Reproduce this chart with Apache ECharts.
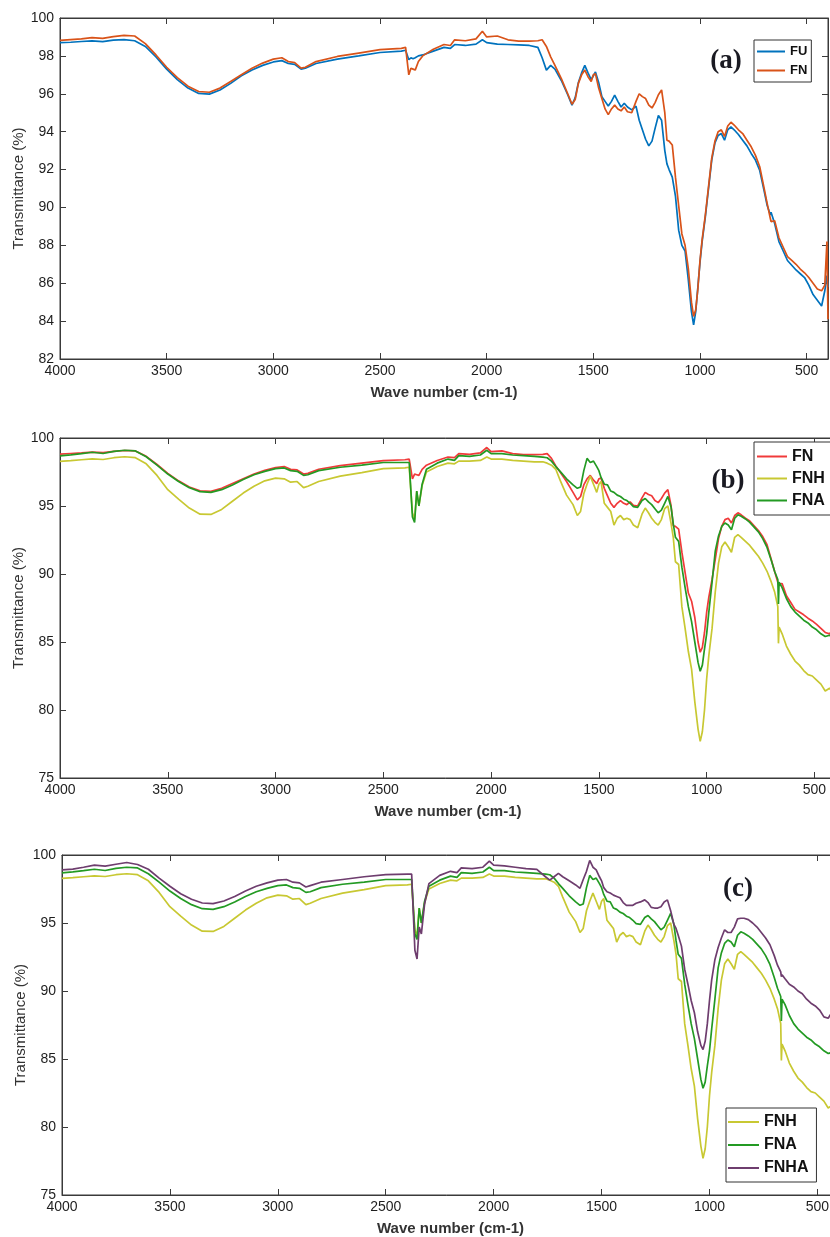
<!DOCTYPE html>
<html>
<head>
<meta charset="utf-8">
<script src="https://cdn.jsdelivr.net/npm/echarts@6/dist/echarts.min.js"></script>
<style>
  html, body { margin: 0; padding: 0; background: #fff; }
  #chart { width: 830px; height: 1237px; }
</style>
</head>
<body>
<div id="chart"></div>
<script>
// FTIR spectra: wavenumber (cm-1) and transmittance (%) for each sample
const wn = [
  4000, 3950, 3900, 3850, 3800, 3750, 3700, 3650, 3600, 3550,
  3500, 3450, 3400, 3350, 3300, 3250, 3200, 3150, 3100, 3050,
  3000, 2960, 2930, 2900, 2870, 2850, 2800, 2700, 2600, 2500,
  2400, 2380, 2365, 2355, 2345, 2335, 2320, 2300, 2250, 2200,
  2170, 2150, 2100, 2050, 2020, 2000, 1950, 1900, 1850, 1800,
  1760, 1740, 1720, 1700, 1680, 1650, 1620, 1600, 1585, 1570,
  1555, 1540, 1525, 1510, 1500, 1490, 1475, 1460, 1445, 1430,
  1415, 1400, 1385, 1370, 1355, 1340, 1320, 1300, 1285, 1270,
  1255, 1240, 1225, 1210, 1195, 1180, 1165, 1155, 1145, 1130,
  1115, 1100, 1085, 1070, 1055, 1040, 1030, 1020, 1010, 1000,
  990, 975, 960, 945, 930, 915, 900, 885, 870, 855,
  840, 820, 800, 780, 760, 740, 720, 700, 685, 670,
  667, 664, 650, 630, 610, 590, 570, 550, 530, 510,
  490, 470, 450, 430, 415, 405, 400
];

const FU = [
  98.70, 98.72, 98.76, 98.79, 98.75, 98.83, 98.86, 98.80, 98.50, 97.95,
  97.30, 96.75, 96.30, 96.02, 95.98, 96.20, 96.55, 96.95, 97.25, 97.50,
  97.68, 97.75, 97.60, 97.55, 97.30, 97.35, 97.60, 97.83, 98.00, 98.18,
  98.25, 98.30, 97.80, 97.90, 97.85, 97.90, 98.00, 98.05, 98.25, 98.45,
  98.40, 98.60, 98.55, 98.62, 98.85, 98.70, 98.62, 98.60, 98.58, 98.55,
  98.45, 97.90, 97.25, 97.50, 97.30, 96.70, 95.95, 95.40, 95.80, 96.60,
  97.10, 97.50, 97.10, 96.75, 96.95, 97.15, 96.60, 95.85, 95.60, 95.35,
  95.60, 95.93, 95.60, 95.30, 95.50, 95.30, 95.15, 95.35, 94.60, 94.10,
  93.60, 93.25, 93.50, 94.20, 94.85, 94.60, 93.00, 92.30, 92.00, 91.60,
  90.60, 88.80, 88.00, 87.70, 86.20, 84.50, 83.80, 84.50, 85.80, 87.10,
  88.20, 89.50, 91.00, 92.50, 93.40, 93.80, 93.90, 93.55, 94.10, 94.25,
  94.10, 93.85, 93.55, 93.25, 92.85, 92.50, 91.95, 90.90, 90.10, 89.60,
  89.75, 89.70, 89.15, 88.20, 87.70, 87.20, 86.95, 86.70, 86.50, 86.30,
  85.90, 85.40, 85.10, 84.80, 85.60, 86.40, 85.80
];

const FN = [
  98.82, 98.86, 98.90, 98.96, 98.92, 99.02, 99.08, 99.05, 98.65, 98.05,
  97.40, 96.85, 96.40, 96.12, 96.08, 96.30, 96.65, 97.00, 97.35, 97.62,
  97.83, 97.90, 97.70, 97.65, 97.35, 97.40, 97.70, 97.97, 98.15, 98.33,
  98.40, 98.45, 97.00, 97.35, 97.30, 97.25, 97.70, 98.00, 98.35, 98.60,
  98.55, 98.85, 98.80, 98.90, 99.30, 99.00, 99.05, 98.85, 98.78, 98.78,
  98.80, 98.85, 98.50, 97.95, 97.50, 96.80, 96.00, 95.45, 95.70, 96.55,
  97.00, 97.25, 96.90, 96.65, 97.00, 97.05, 96.30, 95.75, 95.20, 94.90,
  95.20, 95.40, 95.20, 95.10, 95.30, 95.05, 95.00, 95.60, 96.00, 95.85,
  95.75, 95.40, 95.25, 95.55, 95.95, 96.20, 95.00, 93.55, 93.50, 93.30,
  91.60, 90.10, 88.60, 88.00, 86.80, 85.00, 84.25, 84.60, 85.70, 87.20,
  88.30, 89.60, 91.10, 92.60, 93.50, 94.00, 94.10, 93.75, 94.30, 94.50,
  94.35, 94.10, 93.90, 93.55, 93.20, 92.75, 92.15, 91.05, 90.20, 89.40,
  89.25, 89.35, 89.30, 88.40, 87.90, 87.40, 87.20, 87.00, 86.75, 86.55,
  86.30, 86.00, 85.70, 85.60, 85.90, 88.20, 84.10
];

const FNH = [
  98.28, 98.33, 98.40, 98.46, 98.42, 98.55, 98.62, 98.55, 98.10, 97.25,
  96.20, 95.50, 94.85, 94.40, 94.38, 94.75, 95.35, 95.95, 96.45, 96.85,
  97.05, 97.00, 96.75, 96.80, 96.35, 96.45, 96.80, 97.20, 97.45, 97.75,
  97.80, 97.85, 94.50, 94.00, 96.10, 95.00, 96.50, 97.50, 97.90, 98.15,
  98.10, 98.30, 98.30, 98.35, 98.60, 98.45, 98.45, 98.35, 98.30, 98.25,
  98.25, 98.15, 98.00, 97.70, 96.90, 95.80, 95.10, 94.30, 94.60, 95.90,
  96.60, 97.20, 96.60, 96.00, 96.60, 96.80, 95.20, 94.90, 94.60, 93.60,
  94.10, 94.30, 94.00, 94.10, 94.00, 93.60, 93.40, 94.40, 94.85, 94.50,
  94.10, 93.80, 93.60, 94.00, 94.80, 95.00, 93.70, 92.70, 90.90, 90.70,
  87.60, 86.00, 84.30, 83.00, 80.60, 78.60, 77.70, 78.40, 80.00, 82.30,
  84.00, 86.00, 88.70, 90.80, 92.00, 92.35, 92.00, 91.60, 92.70, 92.90,
  92.70, 92.40, 92.10, 91.70, 91.30, 90.80, 90.20, 89.40, 88.70, 87.60,
  84.90, 86.10, 85.60, 84.70, 84.10, 83.60, 83.30, 82.90, 82.60, 82.50,
  82.20, 81.90, 81.40, 81.60, 81.40, 81.50, 81.40
];

const FNA = [
  98.68, 98.76, 98.85, 98.95, 98.86, 99.02, 99.10, 99.05, 98.62, 98.00,
  97.35, 96.80, 96.35, 96.05, 96.00, 96.20, 96.55, 96.95, 97.30, 97.55,
  97.75, 97.80, 97.60, 97.55, 97.25, 97.30, 97.60, 97.85, 98.00, 98.20,
  98.20, 98.20, 94.20, 93.80, 96.10, 95.00, 96.60, 97.70, 98.15, 98.45,
  98.35, 98.70, 98.65, 98.75, 99.10, 98.85, 98.85, 98.75, 98.70, 98.65,
  98.60, 98.55, 98.30, 97.90, 97.55, 97.00, 96.55, 96.30, 96.40, 97.60,
  98.50, 98.20, 98.30, 97.90, 97.60, 97.10, 96.60, 96.55, 96.10, 96.00,
  95.80, 95.70, 95.50, 95.40, 95.20, 94.95, 94.90, 95.40, 95.55, 95.30,
  95.10, 94.80, 94.50, 94.70, 95.20, 95.70, 94.90, 93.70, 92.70, 92.40,
  90.50, 89.00, 87.60, 86.50, 85.00, 83.50, 82.85, 83.30, 84.50, 85.60,
  87.20, 89.40, 91.70, 92.80, 93.50, 93.75, 93.60, 93.25, 94.10, 94.35,
  94.25, 94.05, 93.80, 93.45, 93.10, 92.60, 91.95, 91.00, 90.20, 89.60,
  87.80, 89.40, 89.00, 88.20, 87.60, 87.20, 86.90, 86.60, 86.40, 86.10,
  85.90, 85.60, 85.40, 85.50, 85.30, 85.50, 85.40
];

const FNHA = [
  98.90, 98.96, 99.10, 99.25, 99.18, 99.32, 99.45, 99.30, 98.95, 98.30,
  97.70, 97.15, 96.75, 96.47, 96.43, 96.62, 96.95, 97.35, 97.70, 97.95,
  98.15, 98.20, 98.00, 97.95, 97.65, 97.75, 98.00, 98.20, 98.40, 98.55,
  98.60, 98.60, 93.00, 92.35, 94.70, 94.20, 96.40, 97.90, 98.50, 98.80,
  98.70, 99.05, 99.00, 99.10, 99.55, 99.25, 99.20, 99.10, 99.00, 98.95,
  98.40, 98.15, 98.40, 98.65, 98.40, 98.10, 97.80, 97.55, 98.20, 98.80,
  99.60, 99.10, 98.90, 98.40, 98.10, 97.60, 97.30, 97.20, 97.05, 96.95,
  96.85, 96.50, 96.30, 96.30, 96.30, 96.45, 96.55, 96.70, 96.50, 96.15,
  96.10, 96.10, 96.20, 96.55, 96.70, 95.90, 94.90, 94.60, 94.10, 93.30,
  91.60, 90.50, 89.30, 88.40, 87.00, 86.00, 85.70, 86.30, 87.60, 89.30,
  90.80, 92.30, 93.20, 93.90, 94.50, 94.30, 94.30, 94.70, 95.30, 95.35,
  95.35, 95.25, 95.00, 94.70, 94.30, 93.90, 93.40, 92.60, 91.90, 91.40,
  91.05, 91.20, 90.90, 90.50, 90.30, 90.00, 89.80, 89.40, 89.10, 88.90,
  88.60, 88.10, 88.00, 88.50, 88.40, 88.60, 88.50
];

const xTicks = [4000, 3500, 3000, 2500, 2000, 1500, 1000, 500];
const panelLabels = ['(a)', '(b)', '(c)'];

const COLORS = {
  FU: '#0072BD',
  FNa: '#D95319',
  FNb: '#F03A3A',
  FNH: '#C8C832',
  FNA: '#239A23',
  FNHA: '#6E3D6E'
};

const pts = arr => wn.map((w, i) => [w, arr[i]]);

const FONT = '"Liberation Sans", Arial, sans-serif';
const AXIS_COLOR = '#3a3a3a';
const plain = v => String(v);

// three stacked panels; the lower two run past the right edge of the page
const grids = [
  { left: 60, top: 18, width: 768, height: 341 },
  { left: 60, top: 438, width: 776, height: 340 },
  { left: 62, top: 855, width: 777, height: 340 }
];
const yRanges = [
  { min: 82, max: 100, interval: 2 },
  { min: 75, max: 100, interval: 5 },
  { min: 75, max: 100, interval: 5 }
];

const xAxes = [];
const yAxes = [];
grids.forEach((g, i) => {
  xAxes.push({
    type: 'value', gridIndex: i, min: 400, max: 4000, inverse: true,
    axisLine: { show: true, lineStyle: { color: AXIS_COLOR, width: 1 } },
    axisTick: { show: true, inside: true, length: 6, customValues: xTicks, lineStyle: { color: AXIS_COLOR } },
    axisLabel: { customValues: xTicks, formatter: plain, fontFamily: FONT, fontSize: 14, color: '#1e1e1e', margin: 5 },
    splitLine: { show: false },
    name: 'Wave number (cm-1)', nameLocation: 'middle', nameGap: 26, nameMoveOverlap: false,
    nameTextStyle: { fontFamily: FONT, fontSize: 15, fontWeight: 'bold', color: '#333' }
  });
  yAxes.push({
    type: 'value', gridIndex: i, min: yRanges[i].min, max: yRanges[i].max, interval: yRanges[i].interval,
    axisLine: { show: true, lineStyle: { color: AXIS_COLOR, width: 1 } },
    axisTick: { show: true, inside: true, length: 6, lineStyle: { color: AXIS_COLOR } },
    axisLabel: { formatter: plain, fontFamily: FONT, fontSize: 14, color: '#1e1e1e', margin: 6 },
    splitLine: { show: false },
    name: 'Transmittance (%)', nameLocation: 'middle', nameGap: 34, nameMoveOverlap: false,
    nameTextStyle: { fontFamily: FONT, fontSize: 15, color: '#333' }
  });
});
// top frame with inward ticks
grids.forEach((g, i) => {
  xAxes.push({
    type: 'value', gridIndex: i, min: 400, max: 4000, inverse: true, position: 'top',
    axisLine: { show: true, lineStyle: { color: AXIS_COLOR, width: 1 } },
    axisTick: { show: true, inside: true, length: 6, customValues: xTicks, lineStyle: { color: AXIS_COLOR } },
    axisLabel: { show: false },
    splitLine: { show: false }
  });
});
// right frame of the first panel
yAxes.push({
  type: 'value', gridIndex: 0, min: 82, max: 100, interval: 2, position: 'right',
  axisLine: { show: true, lineStyle: { color: AXIS_COLOR, width: 1 } },
  axisTick: { show: true, inside: true, length: 6, lineStyle: { color: AXIS_COLOR } },
  axisLabel: { show: false },
  splitLine: { show: false }
});

function line(name, arr, color, panel) {
  return {
    type: 'line', name, data: pts(arr), xAxisIndex: panel, yAxisIndex: panel,
    symbol: 'none', showSymbol: false, smooth: false,
    lineStyle: { color, width: 1.7 }, itemStyle: { color },
    emphasis: { disabled: true }
  };
}

const series = [
  line('FU', FU, COLORS.FU, 0),
  line('FN', FN, COLORS.FNa, 0),
  line('FN', FN, COLORS.FNb, 1),
  line('FNH', FNH, COLORS.FNH, 1),
  line('FNA', FNA, COLORS.FNA, 1),
  line('FNH', FNH, COLORS.FNH, 2),
  line('FNA', FNA, COLORS.FNA, 2),
  line('FNHA', FNHA, COLORS.FNHA, 2)
];

function legendBox(pos, items, fontSize, lineH, gap, padding, iconW) {
  return Object.assign({
    orient: 'vertical', selectedMode: false,
    backgroundColor: '#fff', borderColor: '#333', borderWidth: 1, borderRadius: 0,
    padding, itemGap: gap, itemWidth: iconW, itemHeight: 2, icon: 'rect',
    textStyle: { fontFamily: FONT, fontSize, fontWeight: 'bold', color: '#111', lineHeight: lineH },
    data: items.map(([name, color]) => ({ name, itemStyle: { color, borderWidth: 0 } }))
  }, pos);
}

const legends = [
  legendBox({ left: 754, top: 40 }, [['FU', COLORS.FU], ['FN', COLORS.FNa]], 13, 15, 4, [4, 4, 4, 3], 28),
  legendBox({ left: 754, top: 442 }, [['FN', COLORS.FNb], ['FNH', COLORS.FNH], ['FNA', COLORS.FNA]], 16, 17, 5, [6, 8, 6, 3], 30),
  legendBox({ left: 726, top: 1108 }, [['FNH', COLORS.FNH], ['FNA', COLORS.FNA], ['FNHA', COLORS.FNHA]], 16, 18, 5, [5, 8, 5, 2], 31)
];

const labelPos = [[726, 61], [728, 481], [738, 889]];
const graphics = panelLabels.map((t, i) => ({
  type: 'text', x: labelPos[i][0], y: labelPos[i][1], z: 10,
  style: {
    text: t, font: 'bold 27px "Liberation Serif", "Times New Roman", serif',
    fill: '#1a1a22', align: 'center', verticalAlign: 'middle'
  }
}));

const chart = echarts.init(document.getElementById('chart'), null, { renderer: 'canvas' });
chart.setOption({
  animation: false,
  backgroundColor: '#ffffff',
  grid: grids.map(g => Object.assign({
    show: true, borderColor: AXIS_COLOR, borderWidth: 1, backgroundColor: 'transparent',
    containLabel: false, outerBoundsMode: 'none'
  }, g)),
  xAxis: xAxes,
  yAxis: yAxes,
  legend: legends,
  series,
  graphic: graphics
});
</script>
</body>
</html>
